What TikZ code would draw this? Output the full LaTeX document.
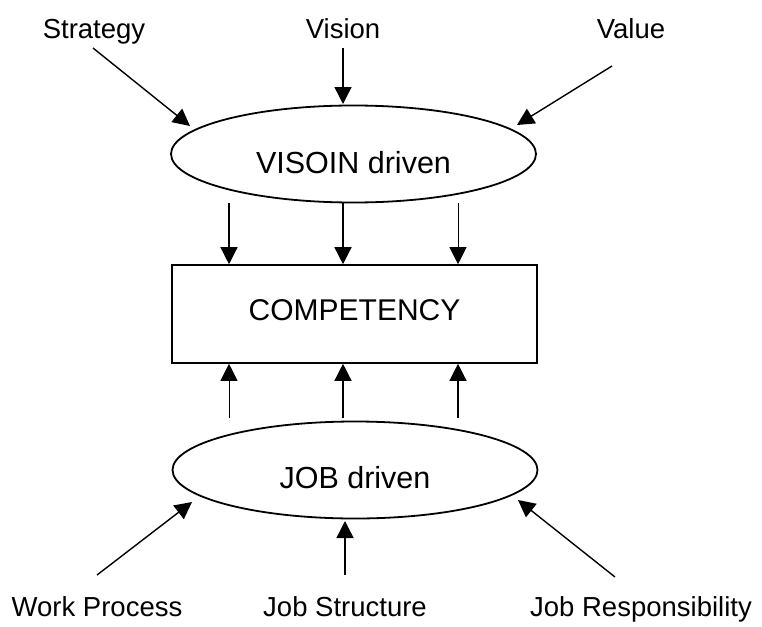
\documentclass[tikz,border=0pt]{standalone}
\usepackage{fontspec}
\setmainfont{Liberation Sans}
\usetikzlibrary{arrows.meta,shapes.geometric}

\tikzset{
  lbl/.style={anchor=base,font=\fontsize{27.5}{33}\selectfont},
  drv/.style={draw,ellipse,line width=1.8pt,minimum width=365pt,minimum height=97pt,
    text depth=0pt,font=\fontsize{30.5}{36}\selectfont},
  comp/.style={draw,rectangle,line width=1.6pt,minimum width=365pt,minimum height=98pt,
    text height=22pt,text depth=10pt,font=\fontsize{30}{36}\selectfont},
  arr/.style={line width=1.4pt,-{Triangle[length=17pt,width=17pt]}}
}

\begin{document}
\begin{tikzpicture}[x=1pt,y=-1pt]
  \useasboundingbox[fill=white] (0,0) rectangle (762,626);

  \node[lbl] (strategy) at (94,38) {Strategy};
  \node[lbl] (vision) at (343,38) {Vision};
  \node[lbl] (value) at (631,38) {Value};
  \node[lbl] (workproc) at (97,616) {Work Process};
  \node[lbl] (jobstruct) at (345,616) {Job Structure};
  \node[lbl] (jobresp) at (641,616) {Job Responsibility};

  \node[drv,text height=38pt] (visdrv) at (353.5,154) {VISOIN driven};
  \node[comp] (competency) at (354.5,314) {COMPETENCY};
  \node[drv,text height=36pt] (jobdrv) at (355,470) {JOB driven};

  \coordinate (sTail) at (93,48);    \coordinate (sTip) at (190,126);
  \coordinate (vTail) at (343,48);   \coordinate (vTip) at (343,104);
  \coordinate (aTail) at (612,66);   \coordinate (aTip) at (517,125);
  \coordinate (wTail) at (97,575);   \coordinate (wTip) at (192,502);
  \coordinate (jTail) at (345,575);  \coordinate (jTip) at (345,521);
  \coordinate (rTail) at (615,577);  \coordinate (rTip) at (518,500);

  \draw[arr] (sTail) -- (sTip);
  \draw[arr] (vTail) -- (vTip);
  \draw[arr] (aTail) -- (aTip);
  \draw[arr] (wTail) -- (wTip);
  \draw[arr] (jTail) -- (jTip);
  \draw[arr] (rTail) -- (rTip);

  \coordinate (d1) at (229,203);
  \coordinate (d2) at (343,203);
  \coordinate (d3) at (458,203);
  \coordinate (u1) at (229,418);
  \coordinate (u2) at (343,418);
  \coordinate (u3) at (458,418);

  \draw[arr] (d1) -- (d1 |- competency.north);
  \draw[arr] (d2) -- (d2 |- competency.north);
  \draw[arr,line width=1pt] (d3) -- (d3 |- competency.north);
  \draw[arr,line width=1pt] (u1) -- (u1 |- competency.south);
  \draw[arr] (u2) -- (u2 |- competency.south);
  \draw[arr] (u3) -- (u3 |- competency.south);
\end{tikzpicture}
\end{document}
